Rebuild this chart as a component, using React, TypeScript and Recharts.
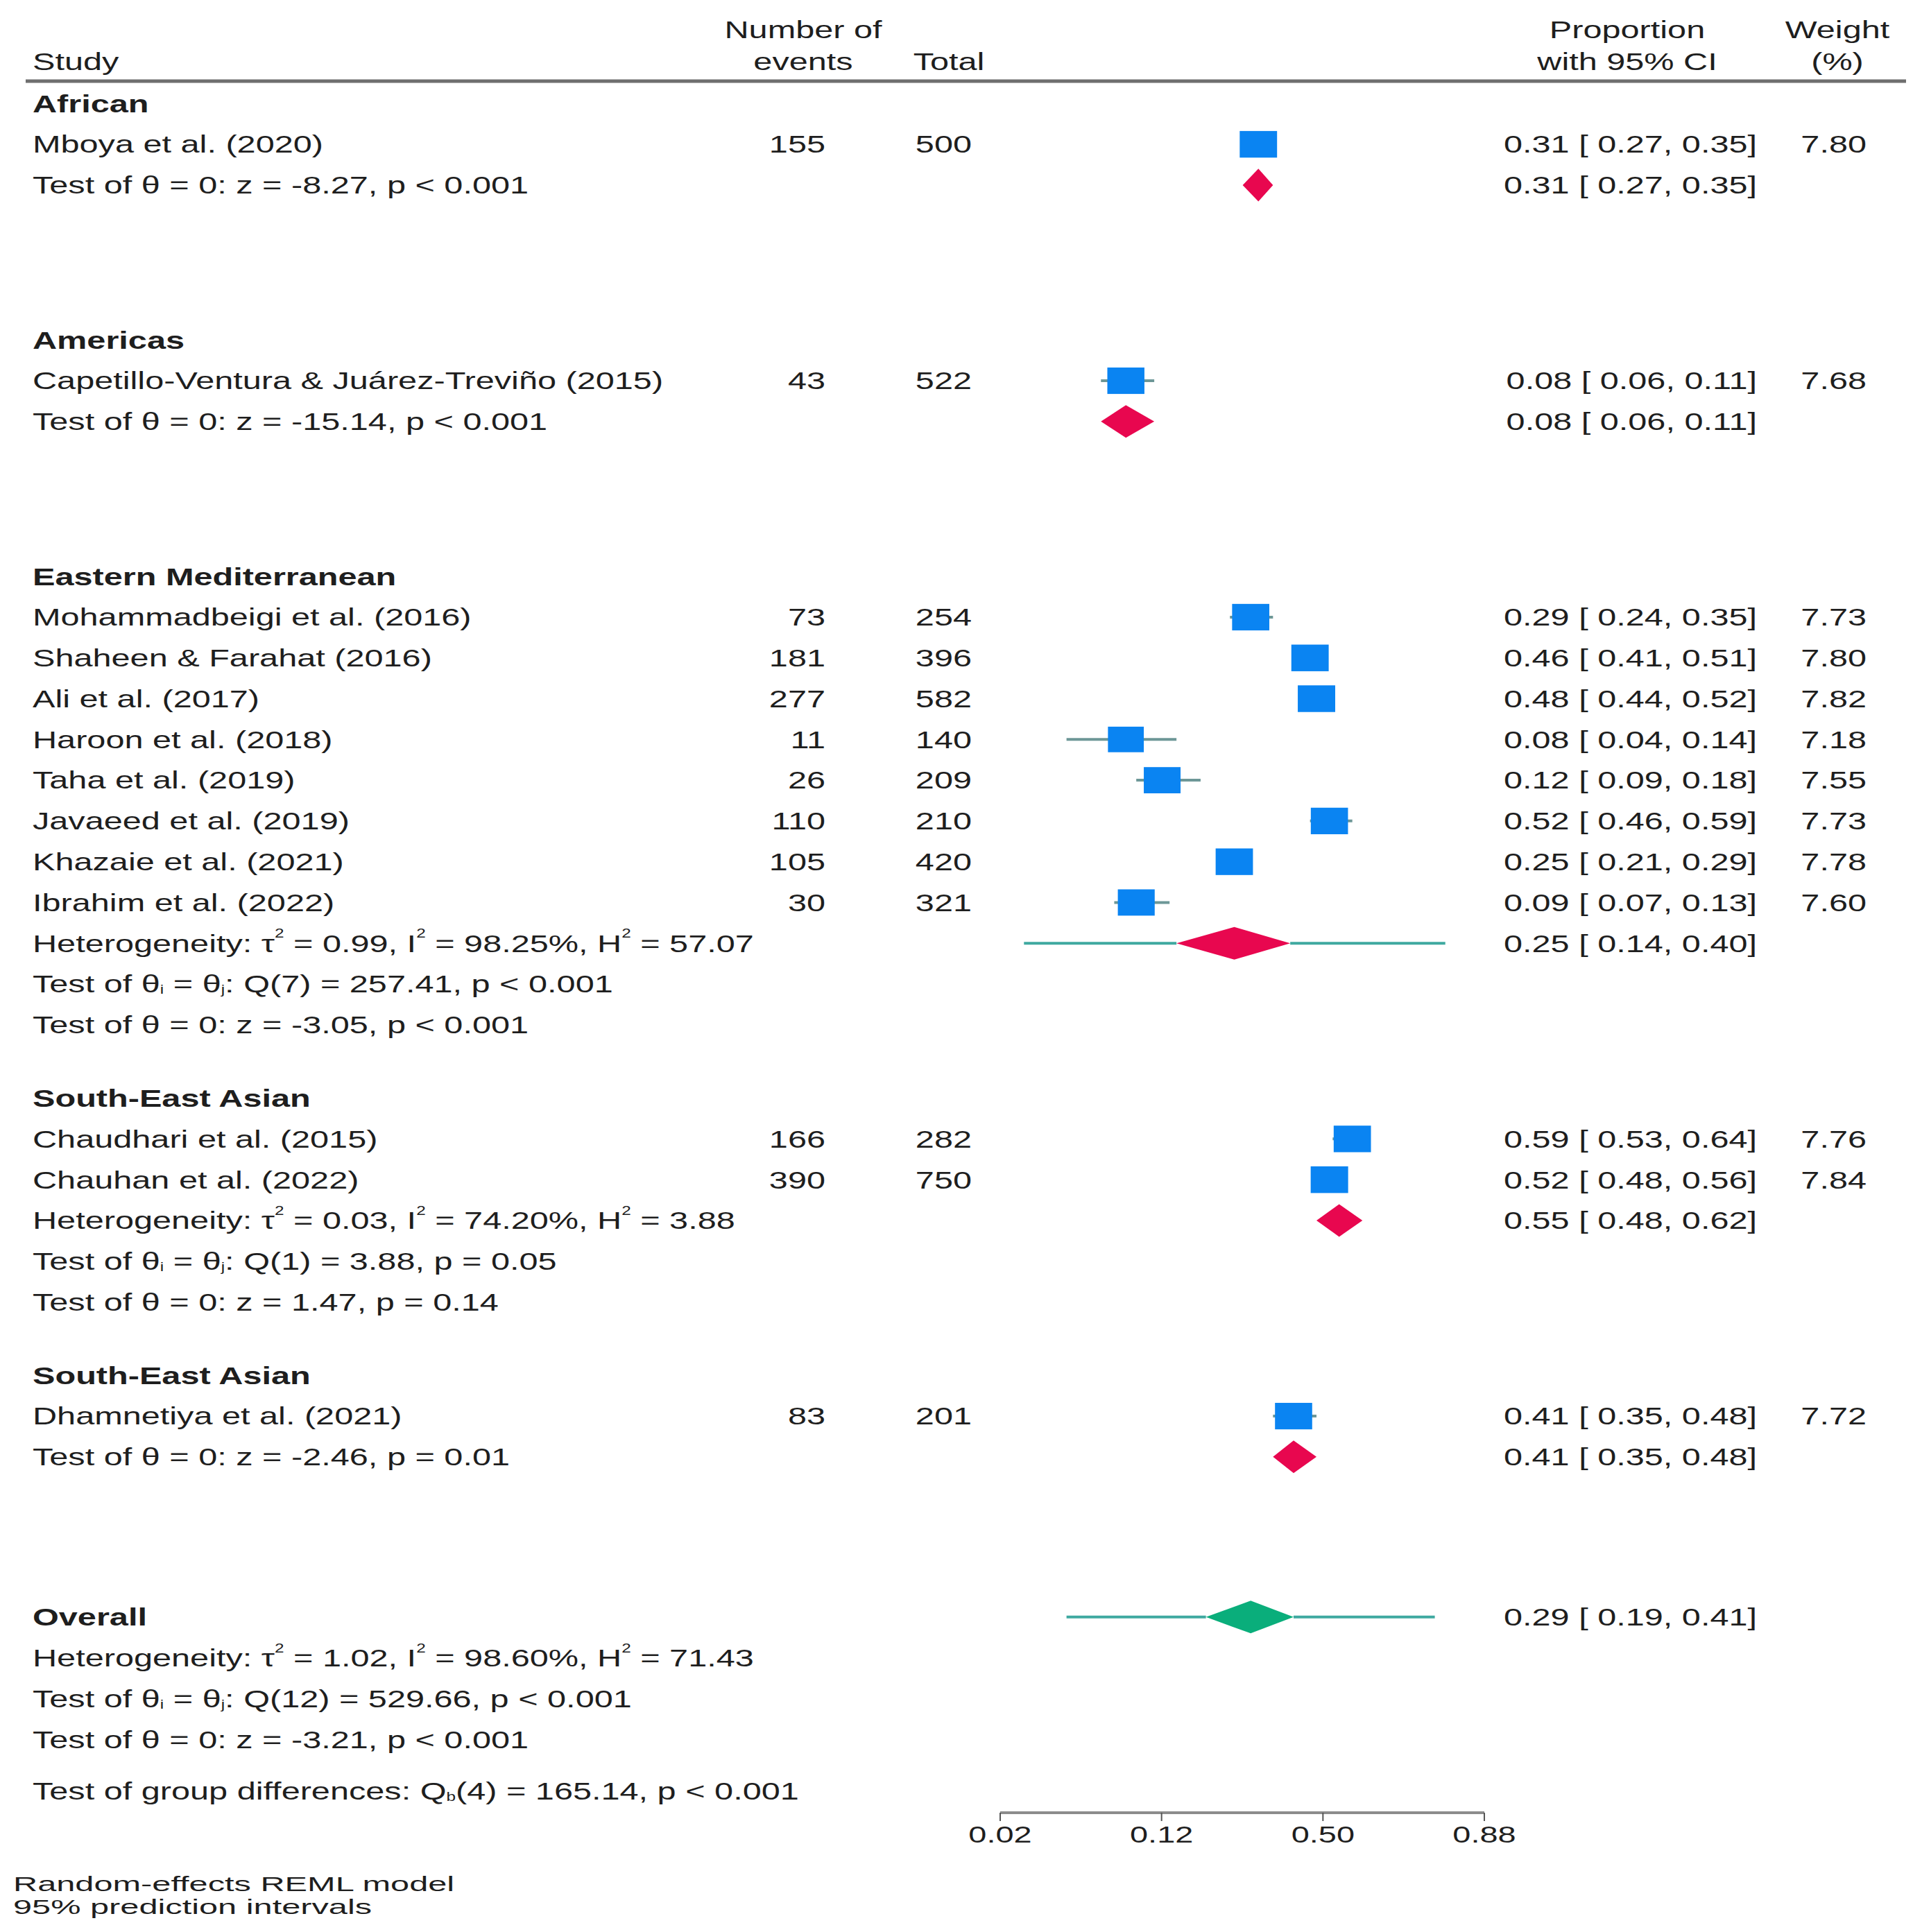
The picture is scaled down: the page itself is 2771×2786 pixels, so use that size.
import React from "react";
import {
  ReferenceArea,
  ReferenceLine,
  Scatter,
  ScatterChart,
  XAxis,
  YAxis,
} from "recharts";

// ---- data ----
const groupNames = [
  "African",
  "Americas",
  "Eastern Mediterranean",
  "South-East Asian",
  "South-East Asian",
];

const studyNames = [
  "Mboya et al. (2020)",
  "Capetillo-Ventura & Juárez-Treviño (2015)",
  "Mohammadbeigi et al. (2016)",
  "Shaheen & Farahat (2016)",
  "Ali et al. (2017)",
  "Haroon et al. (2018)",
  "Taha et al. (2019)",
  "Javaeed et al. (2019)",
  "Khazaie et al. (2021)",
  "Ibrahim et al. (2022)",
  "Chaudhari et al. (2015)",
  "Chauhan et al. (2022)",
  "Dhamnetiya et al. (2021)",
];
const studyGroup = [0, 1, 2, 2, 2, 2, 2, 2, 2, 2, 3, 3, 4];
const events = [155, 43, 73, 181, 277, 11, 26, 110, 105, 30, 166, 390, 83];
const totals = [500, 522, 254, 396, 582, 140, 209, 210, 420, 321, 282, 750, 201];
const proportions = [0.31, 0.08, 0.29, 0.46, 0.48, 0.08, 0.12, 0.52, 0.25, 0.09, 0.59, 0.52, 0.41];
const ciLower = [0.27, 0.06, 0.24, 0.41, 0.44, 0.04, 0.09, 0.46, 0.21, 0.07, 0.53, 0.48, 0.35];
const ciUpper = [0.35, 0.11, 0.35, 0.51, 0.52, 0.14, 0.18, 0.59, 0.29, 0.13, 0.64, 0.56, 0.48];
const weights = [7.8, 7.68, 7.73, 7.8, 7.82, 7.18, 7.55, 7.73, 7.78, 7.6, 7.76, 7.84, 7.72];

const pooledEst = [0.31, 0.08, 0.25, 0.55, 0.41];
const pooledLower = [0.27, 0.06, 0.14, 0.48, 0.35];
const pooledUpper = [0.35, 0.11, 0.4, 0.62, 0.48];
const predLower = [null, null, 0.024, null, null];
const predUpper = [null, null, 0.82, null, null];
const heterogeneity = [
  null,
  null,
  "Heterogeneity: τ^{2} = 0.99, I^{2} = 98.25%, H^{2} = 57.07",
  "Heterogeneity: τ^{2} = 0.03, I^{2} = 74.20%, H^{2} = 3.88",
  null,
];
const homogeneityTests = [
  null,
  null,
  "Test of θ_{i} = θ_{j}: Q(7) = 257.41, p < 0.001",
  "Test of θ_{i} = θ_{j}: Q(1) = 3.88, p = 0.05",
  null,
];
const effectTests = [
  "Test of θ = 0: z = -8.27, p < 0.001",
  "Test of θ = 0: z = -15.14, p < 0.001",
  "Test of θ = 0: z = -3.05, p < 0.001",
  "Test of θ = 0: z = 1.47, p = 0.14",
  "Test of θ = 0: z = -2.46, p = 0.01",
];

const overallEst = 0.29;
const overallCI = [0.19, 0.41];
const overallPred = [0.04, 0.8];
const overallLines = [
  "Heterogeneity: τ^{2} = 1.02, I^{2} = 98.60%, H^{2} = 71.43",
  "Test of θ_{i} = θ_{j}: Q(12) = 529.66, p < 0.001",
  "Test of θ = 0: z = -3.21, p < 0.001",
];
const groupDiffText = "Test of group differences: Q_{b}(4) = 165.14, p < 0.001";
const footnotes = ["Random-effects REML model", "95% prediction intervals"];

// x axis is on the logit scale
const xTicks = [-4, -2, 0, 2];
const xTickLabels = ["0.02", "0.12", "0.50", "0.88"];

// ---- look ----
const W = 2771;
const H = 2786;
const FONT = "'Liberation Sans', Arial, Helvetica, sans-serif";
const INK = "#1e1e1e";
const FS = 35;
const SX = 1.39;
const BLUE = "#0a84f2";
const RED = "#e8074f";
const GREEN = "#0aae7b";
const CI_LINE = "#6d9797";
const PI_LINE = "#3fa9a0";
const DIAMOND_HALF = 0.4; // rows
const GROUP_GAP = 1.8;
const OVERALL_GAP = 1.93;

const COL = {
  label: 47,
  events: 1190,
  total: 1401,
  ci: 2533,
  weight: 2691,
  eventsHead: 1158,
  totalHead: 1368,
  ciHead: 2346,
  weightHead: 2649,
  ruleLeft: 37,
  ruleRight: 2748,
};

const logit = (p: number) => Math.log(p / (1 - p));
const f2 = (v: number) => v.toFixed(2);
const ciText = (e: number, l: number, u: number) => `${f2(e)} [ ${f2(l)}, ${f2(u)}]`;

// ---- build rows ----
type TextRow = {
  x: number;
  y: number;
  kind: "head" | "rule" | "row";
  label?: string;
  bold?: boolean;
  events?: string;
  total?: string;
  ci?: string;
  weight?: string;
};

const textRows: TextRow[] = [];
const squares: { x: number; y: number; w: number }[] = [];
const ciSegs: { lo: number; hi: number; y: number }[] = [];
const diamonds: { lo: number; hi: number; est: number; y: number; color: string }[] = [];
const piSegs: { lo: number; hi: number; y: number }[] = [];

// prediction interval whiskers stop at the diamond's edges
const addPI = (lo: number, hi: number, dLo: number, dHi: number, y: number) => {
  piSegs.push({ lo, hi: dLo, y });
  piSegs.push({ lo: dHi, hi, y });
};

const X0 = xTicks[0];
let slot = -1;
textRows.push({ x: X0, y: slot - 1.82, kind: "head", events: "Number of", ci: "Proportion", weight: "Weight" });
textRows.push({ x: X0, y: slot - 1.04, kind: "head", label: "Study", events: "events", total: "Total", ci: "with 95% CI", weight: "(%)" });
textRows.push({ x: X0, y: slot - 0.55, kind: "rule" });

groupNames.forEach((g, gi) => {
  textRows.push({ x: X0, y: slot, kind: "row", label: g, bold: true });
  studyNames.forEach((name, si) => {
    if (studyGroup[si] !== gi) return;
    slot += 1;
    textRows.push({
      x: X0,
      y: slot,
      kind: "row",
      label: name,
      events: String(events[si]),
      total: String(totals[si]),
      ci: ciText(proportions[si], ciLower[si], ciUpper[si]),
      weight: f2(weights[si]),
    });
    squares.push({ x: logit(proportions[si]), y: slot, w: weights[si] });
    ciSegs.push({ lo: logit(ciLower[si]), hi: logit(ciUpper[si]), y: slot });
  });
  const first = slot + 1;
  const pooled = ciText(pooledEst[gi], pooledLower[gi], pooledUpper[gi]);
  if (heterogeneity[gi]) {
    textRows.push({ x: X0, y: first, kind: "row", label: heterogeneity[gi] as string, ci: pooled });
    textRows.push({ x: X0, y: first + 1, kind: "row", label: homogeneityTests[gi] as string });
    textRows.push({ x: X0, y: first + 2, kind: "row", label: effectTests[gi] });
  } else {
    textRows.push({ x: X0, y: first, kind: "row", label: effectTests[gi], ci: pooled });
  }
  const dLo = logit(pooledLower[gi]);
  const dHi = logit(pooledUpper[gi]);
  diamonds.push({ lo: dLo, hi: dHi, est: logit(pooledEst[gi]), y: first, color: RED });
  const pl = predLower[gi];
  const pu = predUpper[gi];
  if (pl != null && pu != null) addPI(logit(pl), logit(pu), dLo, dHi, first);
  slot = first + 2 + (gi < groupNames.length - 1 ? GROUP_GAP : OVERALL_GAP);
});

const overallSlot = slot;
textRows.push({ x: X0, y: overallSlot, kind: "row", label: "Overall", bold: true, ci: ciText(overallEst, overallCI[0], overallCI[1]) });
overallLines.forEach((t, i) => textRows.push({ x: X0, y: overallSlot + 1 + i, kind: "row", label: t }));
textRows.push({ x: X0, y: overallSlot + 4.26, kind: "row", label: groupDiffText });
diamonds.push({ lo: logit(overallCI[0]), hi: logit(overallCI[1]), est: logit(overallEst), y: overallSlot, color: GREEN });
addPI(logit(overallPred[0]), logit(overallPred[1]), logit(overallCI[0]), logit(overallCI[1]), overallSlot);

const Y_TOP = -3.2;
const Y_BOTTOM = overallSlot + 4.8;
const maxWeight = Math.max(...weights);

// ---- drawing helpers ----
function Rich({
  x,
  y,
  text,
  anchor = "start",
  size = FS,
  sx = SX,
  bold = false,
}: {
  x: number;
  y: number;
  text: string;
  anchor?: "start" | "middle" | "end";
  size?: number;
  sx?: number;
  bold?: boolean;
}) {
  const parts = text.split(/(\^\{[^}]*\}|_\{[^}]*\})/).filter((p) => p.length > 0);
  let cur = 0;
  return (
    <text
      transform={`translate(${x} ${y}) scale(${sx} 1)`}
      textAnchor={anchor}
      dominantBaseline="central"
      fontFamily={FONT}
      fontSize={size}
      fontWeight={bold ? 700 : 400}
      fill={INK}
      style={{ whiteSpace: "pre" }}
    >
      {parts.map((p, i) => {
        let target = 0;
        let content = p;
        let small = false;
        if (p.startsWith("^{")) {
          target = -size * 0.42;
          content = p.slice(2, -1);
          small = true;
        } else if (p.startsWith("_{")) {
          target = size * 0.22;
          content = p.slice(2, -1);
          small = true;
        }
        const dy = target - cur;
        cur = target;
        return (
          <tspan key={i} dy={dy} fontSize={small ? size * 0.5 : size}>
            {content}
          </tspan>
        );
      })}
    </text>
  );
}

const textShape = (props: any) => {
  const row: TextRow = props.payload ?? props;
  const cy: number = props.cy;
  if (row.kind === "rule") {
    return <line x1={COL.ruleLeft} x2={COL.ruleRight} y1={cy} y2={cy} stroke="#6f6f6f" strokeWidth={5} />;
  }
  const head = row.kind === "head";
  return (
    <g>
      {row.label && <Rich x={COL.label} y={cy} text={row.label} bold={row.bold} />}
      {row.events && <Rich x={head ? COL.eventsHead : COL.events} y={cy} text={row.events} anchor={head ? "middle" : "end"} />}
      {row.total && <Rich x={head ? COL.totalHead : COL.total} y={cy} text={row.total} anchor={head ? "middle" : "end"} />}
      {row.ci && <Rich x={head ? COL.ciHead : COL.ci} y={cy} text={row.ci} anchor={head ? "middle" : "end"} />}
      {row.weight && <Rich x={head ? COL.weightHead : COL.weight} y={cy} text={row.weight} anchor={head ? "middle" : "end"} />}
    </g>
  );
};

const squareShape = (props: any) => {
  const w: number = (props.payload ?? props).w;
  const k = Math.sqrt(w / maxWeight);
  const sw = 54 * k;
  const sh = 38.5 * k;
  return <rect x={props.cx - sw / 2} y={props.cy - sh / 2} width={sw} height={sh} fill={BLUE} />;
};

const diamondShape = (d: { lo: number; hi: number; est: number; color: string }) => (props: any) => {
  const left = Math.min(props.x, props.x + props.width);
  const top = Math.min(props.y, props.y + props.height);
  const w = Math.abs(props.width);
  const h = Math.abs(props.height);
  const cx = left + (w * (d.est - d.lo)) / (d.hi - d.lo);
  const cy = top + h / 2;
  return (
    <polygon
      points={`${left},${cy} ${cx},${top} ${left + w},${cy} ${cx},${top + h}`}
      fill={d.color}
    />
  );
};

function AxisTick(props: any) {
  const { x, y, payload } = props;
  const i = xTicks.indexOf(payload.value);
  return <Rich x={x} y={y + 17} text={xTickLabels[i]} anchor="middle" size={34} sx={1.38} />;
}

export default function App() {
  return (
    <div style={{ position: "absolute", left: 0, top: 0, width: W, height: H, background: "#fff" }}>
      <ScatterChart width={W} height={H} margin={{ top: 20, right: 631, bottom: 92, left: 1442 }}>
        <XAxis
          type="number"
          dataKey="x"
          domain={[xTicks[0], xTicks[xTicks.length - 1]]}
          ticks={xTicks}
          height={80}
          tickSize={12}
          axisLine={{ stroke: "#8c8c8c", strokeWidth: 4 }}
          tickLine={{ stroke: "#555", strokeWidth: 2 }}
          tick={<AxisTick />}
        />
        <YAxis type="number" dataKey="y" domain={[Y_TOP, Y_BOTTOM]} reversed hide />
        {piSegs.map((s, i) => (
          <ReferenceLine
            key={`pi${i}`}
            segment={[
              { x: s.lo, y: s.y },
              { x: s.hi, y: s.y },
            ]}
            stroke={PI_LINE}
            strokeWidth={4}
          />
        ))}
        {ciSegs.map((s, i) => (
          <ReferenceLine
            key={`ci${i}`}
            segment={[
              { x: s.lo, y: s.y },
              { x: s.hi, y: s.y },
            ]}
            stroke={CI_LINE}
            strokeWidth={4}
          />
        ))}
        {diamonds.map((d, i) => (
          <ReferenceArea
            key={`dm${i}`}
            x1={d.lo}
            x2={d.hi}
            y1={d.y - DIAMOND_HALF}
            y2={d.y + DIAMOND_HALF}
            shape={diamondShape(d)}
          />
        ))}
        <Scatter data={squares} shape={squareShape} isAnimationActive={false} />
        <Scatter data={textRows} shape={textShape} isAnimationActive={false} />
      </ScatterChart>
      <svg width={W} height={H} style={{ position: "absolute", left: 0, top: 0, pointerEvents: "none" }}>
        {footnotes.map((t, i) => (
          <Rich key={t} x={19} y={2717 + i * 33} text={t} size={29} sx={1.68} />
        ))}
      </svg>
    </div>
  );
}
